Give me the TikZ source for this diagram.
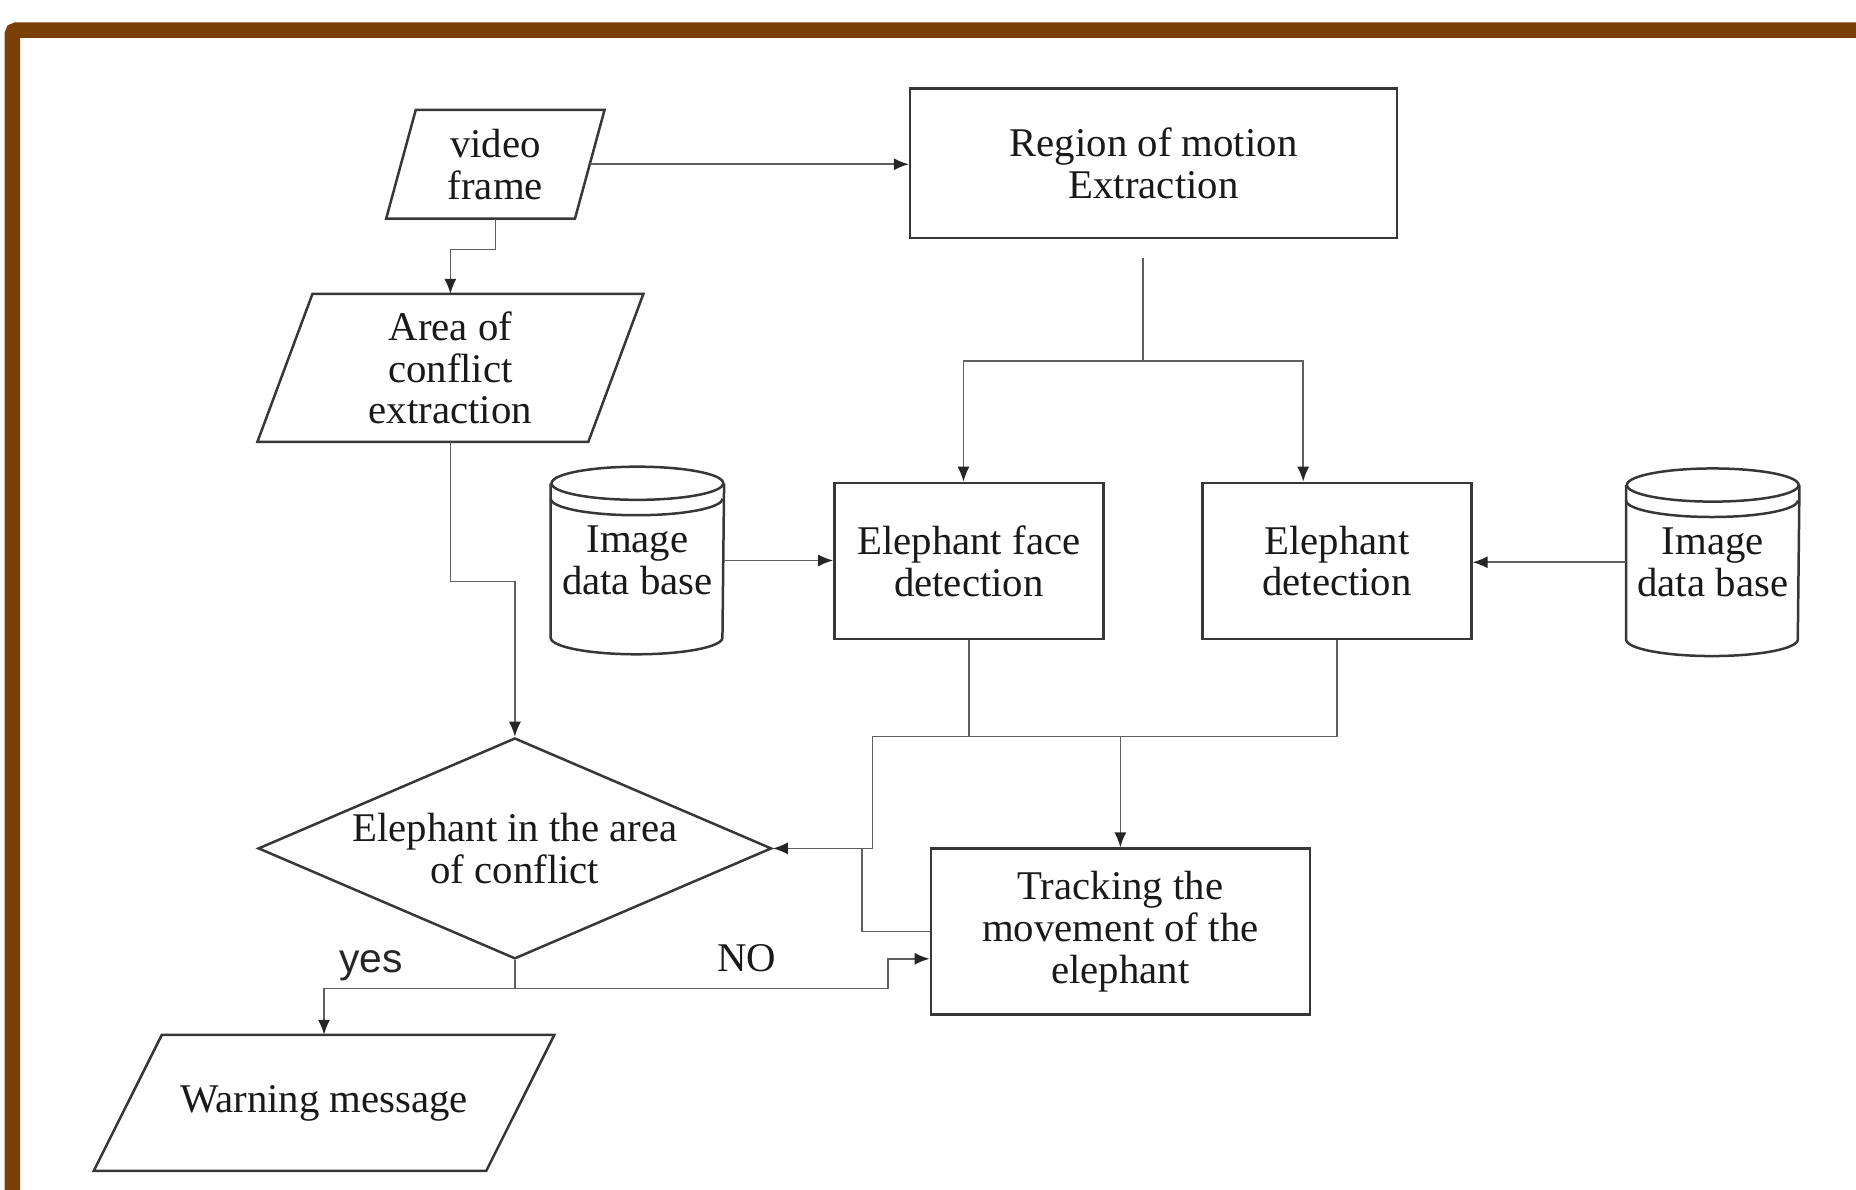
\documentclass[tikz,border=0pt]{standalone}
\usepackage{fontspec}
\setmainfont{Liberation Serif}
\newfontfamily\yesfont{Liberation Sans}
\usetikzlibrary{shapes.geometric,arrows.meta}
\definecolor{framebrown}{RGB}{122,64,6}
\definecolor{lineclr}{RGB}{55,55,55}
\definecolor{connclr}{RGB}{95,95,95}

% slanted outline round a data node
\newcommand\ioslant[2]{%
  \draw[boxline] ([xshift=#2]#1.north west) -- ([xshift=#2]#1.north east)
    -- ([xshift=-#2]#1.south east) -- ([xshift=-#2]#1.south west) -- cycle;}
% drum outline round a data base node
\newcommand\dbdrum[1]{%
  \draw[boxline] ([yshift=-0.14cm]#1.north) ellipse [x radius=0.725cm, y radius=0.14cm];
  \draw[boxline] ([yshift=-0.27cm]#1.north west) arc[start angle=180, end angle=360, x radius=0.725cm, y radius=0.14cm];
  \draw[boxline] ([yshift=-0.14cm]#1.north west) -- ([yshift=0.14cm]#1.south west)
    arc[start angle=180, end angle=360, x radius=0.725cm, y radius=0.14cm] -- ([yshift=-0.14cm]#1.north east);}

\begin{document}
\begin{tikzpicture}[x=0.01cm, y=-0.01cm,
    txt/.style={font=\fontsize{9.8}{10.05}\selectfont, text=black!90, align=center, inner sep=0pt},
    boxline/.style={draw=lineclr, line width=0.6pt},
    conn/.style={draw=connclr, line width=0.4pt},
    arr/.style={conn, -{Latex[length=3.6pt,width=2.9pt,color=black!85]}},
    procbox/.style={txt, rectangle, boxline}]
  \useasboundingbox (0,0) rectangle (1568,1005);
  \draw[framebrown, line width=0.13cm, rounded corners=0.03cm] (10.5,1040) -- (10.5,25.5) -- (1600,25.5);

  \node[txt, minimum width=1.58cm, minimum height=0.905cm] (vf) at (418.5,138.75) {video\\frame};
  \ioslant{vf}{0.125cm}
  \node[procbox, minimum width=4.11cm, minimum height=1.26cm] (reg) at (974.5,138) {Region of motion\\Extraction};
  \node[txt, minimum width=2.78cm, minimum height=1.236cm] (ar) at (380.5,310.8) {Area of\\conflict\\extraction};
  \ioslant{ar}{0.2325cm}
  \node[txt, minimum width=1.45cm, minimum height=1.57cm] (dbl) at (538.5,473.5) {Image\\data base};
  \dbdrum{dbl}
  \node[procbox, minimum width=2.27cm, minimum height=1.32cm] (face) at (818.5,474) {Elephant face\\detection};
  \node[procbox, minimum width=2.27cm, minimum height=1.32cm] (det) at (1129.5,474) {Elephant\\detection};
  \node[txt, minimum width=1.45cm, minimum height=1.57cm] (dbr) at (1447,475) {Image\\data base};
  \dbdrum{dbr}
  \node[txt, diamond, boxline, aspect=2.32, minimum width=4.335cm, minimum height=1.865cm] (dia) at (435,716.75) {Elephant in the area\\of conflict};
  \node[procbox, minimum width=3.2cm, minimum height=1.4cm] (track) at (946.5,787) {Tracking the\\movement of the\\elephant};
  \node[txt, minimum width=3.3cm, minimum height=1.135cm] (warn) at (273.75,931.75) {Warning message};
  \ioslant{warn}{0.2875cm}
  \node[font=\yesfont\fontsize{9.8}{10}\selectfont, text=black!85, inner sep=0pt, anchor=base] (yes) at (313.5,822) {yes};
  \node[txt, anchor=base] (no) at (631,821) {NO};

  \draw[arr] (vf.east) -- (vf.east -| reg.west);
  \draw[arr] (vf.south) -- ++(0,26) -| (ar.north);
  \draw[arr] (ar.south) -- ++(0,118) -| (dia.north);
  \draw[conn] ([xshift=-0.09cm,yshift=-0.155cm]reg.south) -- ++(0,87.5) coordinate (split);
  \draw[arr] (split) -| ([xshift=-0.045cm]face.north);
  \draw[arr] (split) -| ([xshift=-0.285cm]det.north);
  \draw[arr] (dbl.east) -- (dbl.east -| face.west);
  \draw[arr] (dbr.west) -- (dbr.west -| det.east);
  \draw[conn] (face.south) -- ++(0,81) coordinate (fm) -| (det.south);
  \draw[arr] (fm -| track.north) -- (track.north);
  \draw[arr] (fm) -| ([xshift=0.84cm]dia.east) -- (dia.east);
  \draw[conn] (track.west) -| ([xshift=0.75cm]dia.east);
  \draw[arr] (dia.south) -- ++(0,24) -| ([xshift=-0.35cm,yshift=-0.23cm]track.west) -- ([yshift=-0.23cm]track.west);
  \draw[arr] (dia.south) -- ++(0,24) -| (warn.north);
\end{tikzpicture}
\end{document}
